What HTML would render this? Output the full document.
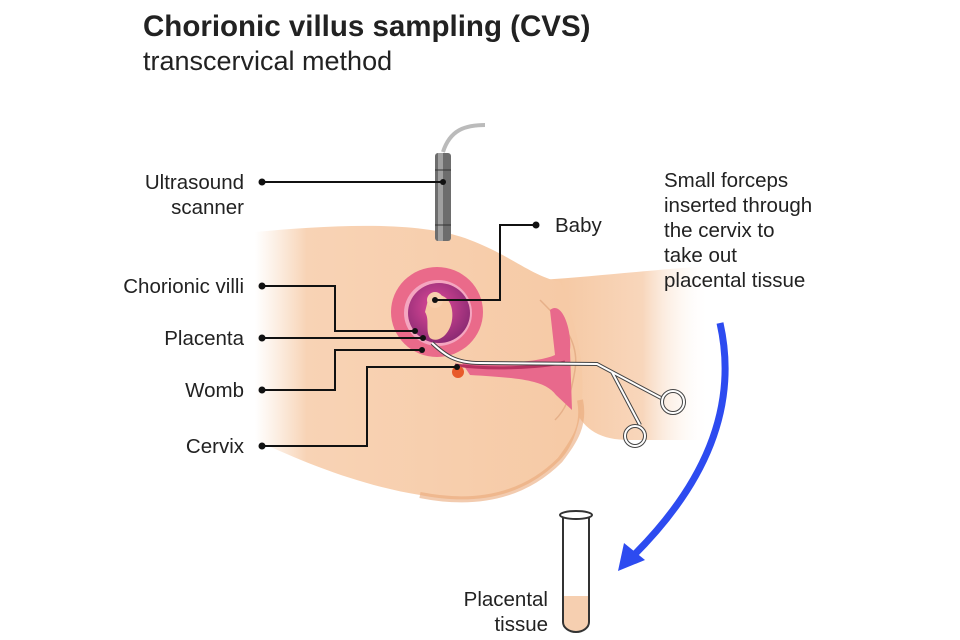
<!DOCTYPE html>
<html><head><meta charset="utf-8"><style>
html,body{margin:0;padding:0;background:#fff;}
svg{display:block}
text{font-family:"Liberation Sans",Arial,sans-serif;fill:#222;}
</style></head><body>
<svg width="960" height="640" viewBox="0 0 960 640" xmlns="http://www.w3.org/2000/svg">
<defs>
<linearGradient id="fadeL" gradientUnits="userSpaceOnUse" x1="255" x2="600" y1="0" y2="0">
<stop offset="0" stop-color="#f8d9bf" stop-opacity="0"/>
<stop offset="0.15" stop-color="#f8d3b5"/>
<stop offset="1" stop-color="#f6c9a4"/>
</linearGradient>
<linearGradient id="fadeR" gradientUnits="userSpaceOnUse" x1="560" x2="710" y1="0" y2="0">
<stop offset="0" stop-color="#f6c9a4"/>
<stop offset="0.55" stop-color="#f8d6bb"/>
<stop offset="1" stop-color="#ffffff" stop-opacity="0"/>
</linearGradient>
<radialGradient id="sac" cx="0.45" cy="0.4" r="0.6">
<stop offset="0" stop-color="#e24a9a"/><stop offset="1" stop-color="#8d2b74"/>
</radialGradient>
</defs>

<text x="143" y="36" font-size="29.5" font-weight="bold" fill="#111">Chorionic villus sampling (CVS)</text>
<text x="143" y="70" font-size="27" fill="#222">transcervical method</text>

<!-- right buttock -->
<path d="M540,280 C600,276 650,270 710,266 L710,440 L630,440 C600,440 585,430 575,410 C560,370 560,320 540,280 Z" fill="url(#fadeR)"/>
<!-- body -->
<path d="M255,232 C330,225 420,220 470,240 C510,255 530,275 560,282 C575,320 585,360 582,400 C580,430 570,450 560,460 C520,500 470,505 420,495 C360,485 310,465 255,440 Z" fill="url(#fadeL)"/>
<path d="M420,495 C470,505 520,500 560,460 C575,440 585,425 580,400" fill="none" stroke="#e9a97a" stroke-width="6" opacity="0.6"/>
<path d="M540,300 C560,320 580,340 575,370 C570,400 565,410 555,420" fill="none" stroke="#e6b089" stroke-width="1.5"/>

<!-- vagina canal -->
<path d="M460,360 C500,365 540,362 555,355 L550,310 C562,300 572,330 570,350 L572,410 L556,395 C545,380 520,378 470,375 Z" fill="#e8698c"/>
<path d="M455,365 C490,370 540,368 565,362" fill="none" stroke="#b73260" stroke-width="3"/>

<!-- womb -->
<ellipse cx="437" cy="312" rx="46" ry="45" fill="#ea6a8a"/>
<ellipse cx="438" cy="313" rx="34" ry="33" fill="#f4a6c0"/>
<ellipse cx="439" cy="313" rx="31" ry="30" fill="url(#sac)"/>
<path d="M428,300 C435,290 450,295 452,310 C455,330 440,345 430,338 C425,330 430,320 425,312 Z" fill="#f6c9a4"/>
<circle cx="435" cy="300" r="8" fill="#f8d0ae"/>
<circle cx="458" cy="372" r="6" fill="#e85a2a"/>

<!-- probe -->
<path d="M443,152 C450,130 465,125 485,125" fill="none" stroke="#bbb" stroke-width="4"/>
<rect x="435" y="153" width="16" height="88" rx="3" fill="#6d6d6d"/>
<rect x="438" y="153" width="5" height="88" fill="#a0a0a0"/>
<line x1="435" y1="170" x2="451" y2="170" stroke="#333"/>
<line x1="435" y1="225" x2="451" y2="225" stroke="#333"/>

<!-- forceps -->
<path d="M432,343 C445,355 455,363 480,363 L597,364 L612,372 L661,398 M612,372 L640,425" fill="none" stroke="#444" stroke-width="4"/>
<path d="M432,343 C445,355 455,363 480,363 L597,364 L612,372 L661,398 M612,372 L640,425" fill="none" stroke="#fff" stroke-width="2"/>
<circle cx="673" cy="402" r="11" fill="none" stroke="#444" stroke-width="4"/>
<circle cx="673" cy="402" r="11" fill="none" stroke="#fff" stroke-width="2"/>
<circle cx="635" cy="436" r="10" fill="none" stroke="#444" stroke-width="4"/>
<circle cx="635" cy="436" r="10" fill="none" stroke="#fff" stroke-width="2"/>

<!-- leader lines -->
<g fill="none" stroke="#111" stroke-width="2">
<path d="M262,182 H443"/>
<path d="M536,225 H500 V300 H435"/>
<path d="M262,286 H335 V331 H415"/>
<path d="M262,338 H423"/>
<path d="M262,390 H335 V350 H422"/>
<path d="M262,446 H367 V367 H457"/>
</g>
<g fill="#111">
<circle cx="262" cy="182" r="3.5"/><circle cx="443" cy="182" r="3"/>
<circle cx="536" cy="225" r="3.5"/><circle cx="435" cy="300" r="3"/>
<circle cx="262" cy="286" r="3.5"/><circle cx="415" cy="331" r="3"/>
<circle cx="262" cy="338" r="3.5"/><circle cx="423" cy="338" r="3"/>
<circle cx="262" cy="390" r="3.5"/><circle cx="422" cy="350" r="3"/>
<circle cx="262" cy="446" r="3.5"/><circle cx="457" cy="367" r="3"/>
</g>

<g font-size="20.5" text-anchor="end">
<text x="244" y="189">Ultrasound</text>
<text x="244" y="214">scanner</text>
<text x="244" y="293">Chorionic villi</text>
<text x="244" y="345">Placenta</text>
<text x="244" y="397">Womb</text>
<text x="244" y="453">Cervix</text>
</g>
<text x="555" y="232" font-size="20.5">Baby</text>
<g font-size="20.5">
<text x="664" y="187">Small forceps</text>
<text x="664" y="212">inserted through</text>
<text x="664" y="237">the cervix to</text>
<text x="664" y="262">take out</text>
<text x="664" y="287">placental tissue</text>
</g>
<g font-size="20.5" text-anchor="end">
<text x="548" y="606">Placental</text>
<text x="548" y="631">tissue</text>
</g>

<!-- arrow -->
<path d="M720,323 C735,390 720,470 632,557" fill="none" stroke="#2d4bf0" stroke-width="7"/>
<polygon points="618,571 624,543 645,560" fill="#2d4bf0"/>

<!-- tube -->
<path d="M563,596 L589,596 L589,622 A13,10 0 0 1 563,622 Z" fill="#f6cfb0"/>
<path d="M563,516 L563,622 A13,10 0 0 0 589,622 L589,516" fill="none" stroke="#333" stroke-width="2"/>
<ellipse cx="576" cy="515" rx="16" ry="4" fill="#fff" stroke="#333" stroke-width="2"/>
</svg>
</body></html>
